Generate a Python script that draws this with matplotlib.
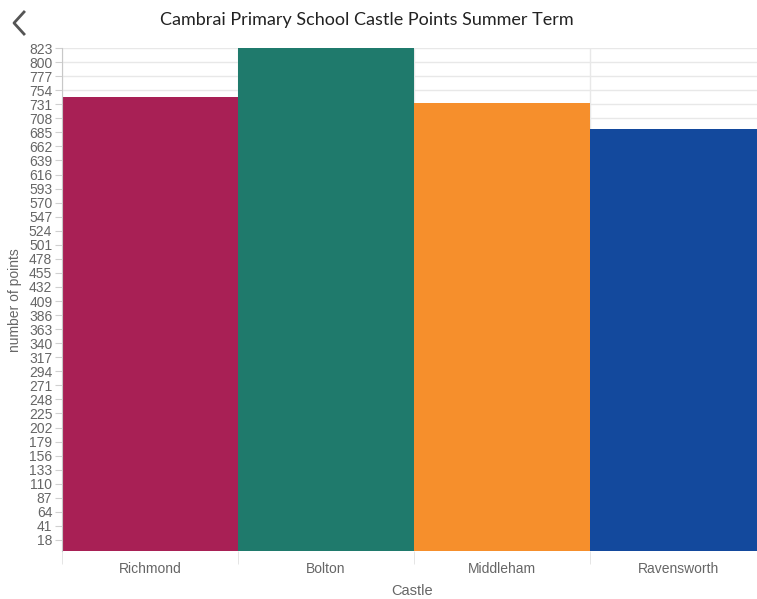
import matplotlib
matplotlib.use("Agg")
import matplotlib.pyplot as plt
from matplotlib.lines import Line2D

# data
castles = ["Richmond", "Bolton", "Middleham", "Ravensworth"]
points = [743, 823, 733, 690]
colours = ["#A82055", "#1F7A6C", "#F68F2C", "#13499D"]
y_ticks = list(range(18, 824, 23))

W, H = 757, 599
fig = plt.figure(figsize=(W / 100, H / 100), dpi=100)
# the last band runs a little past the right edge in the original
ax = fig.add_axes([62 / W, 1 - 551 / H, (766 - 62) / W, (551 - 48) / H])

tick_font = ["Liberation Sans Narrow", "Liberation Sans", "DejaVu Sans"]
grey = "#666666"

x = range(len(castles))
ax.bar(x, points, width=1.0, color=colours, linewidth=0, zorder=2)

ax.set_xlim(-0.5, len(castles) - 0.5)
ax.set_ylim(0, 823)

ax.set_yticks(y_ticks)
ax.set_yticklabels([str(t) for t in y_ticks], family=tick_font, fontsize=10, color=grey)
ax.set_xticks(list(x))
ax.set_xticklabels(castles, family=tick_font, fontsize=10, color=grey)
ax.set_xticks([i - 0.5 for i in range(len(castles))], minor=True)

ax.tick_params(axis="y", length=5, color="#d0d0d0", pad=2)
ax.tick_params(axis="x", which="major", length=0, pad=8)
ax.tick_params(axis="x", which="minor", length=9, color="#e0e0e0")

ax.grid(axis="y", color="#e8e8e8", linewidth=1, zorder=0)
ax.grid(axis="x", which="minor", color="#e8e8e8", linewidth=1, zorder=0)
ax.set_axisbelow(True)

for side in ["top", "right", "bottom"]:
    ax.spines[side].set_visible(False)
ax.spines["left"].set_color("#c8c8c8")

fig.text(412 / W, 1 - 591 / H, "Castle", ha="center", va="center",
         family=tick_font, fontsize=10.5, color=grey)
fig.text(15 / W, 1 - 300 / H, "number of points", ha="center", va="center",
         rotation=90, family=tick_font, fontsize=10, color=grey)

fig.text(367 / W, 1 - 20 / H, "Cambrai Primary School Castle Points Summer Term",
         ha="center", va="center", fontsize=13, family=["Lato", "DejaVu Sans"], color="#222222")

# back chevron
fig.add_artist(Line2D([24 / W, 14 / W, 24 / W], [1 - 12 / H, 1 - 23 / H, 1 - 34 / H],
                      color="#555555", linewidth=2))

fig.savefig("out.png", dpi=100)
